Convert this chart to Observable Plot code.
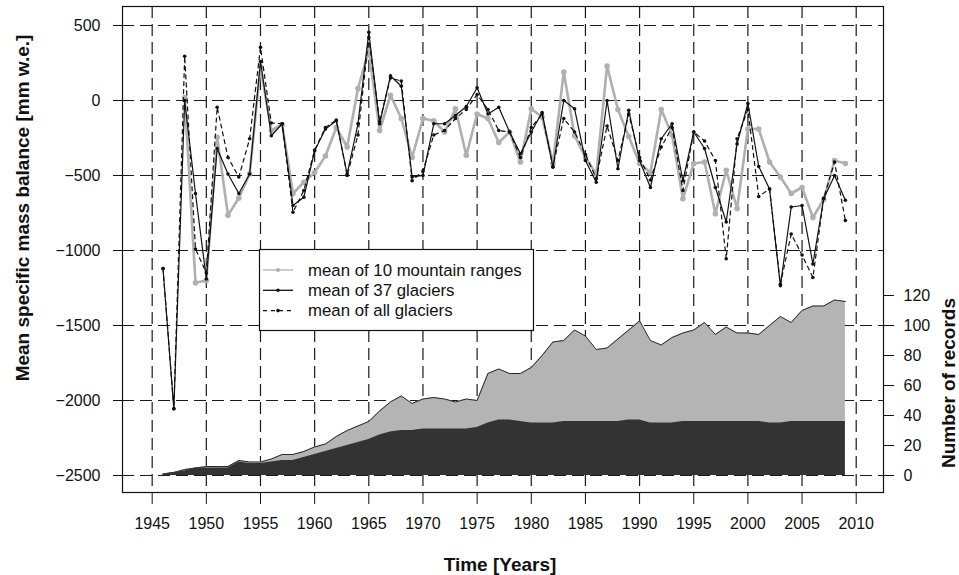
<!DOCTYPE html>
<html>
<head>
<meta charset="utf-8">
<script src="https://cdn.jsdelivr.net/npm/d3@7"></script>
<script src="https://cdn.jsdelivr.net/npm/@observablehq/plot@0.6"></script>
<style>
  body { margin: 0; background: #fff; }
  #chart { width: 959px; height: 575px; }
</style>
</head>
<body>
<div id="chart"></div>
<script>
// ---------- data ----------
const years = [1946,1947,1948,1949,1950,1951,1952,1953,1954,1955,
  1956,1957,1958,1959,1960,1961,1962,1963,1964,1965,
  1966,1967,1968,1969,1970,1971,1972,1973,1974,1975,
  1976,1977,1978,1979,1980,1981,1982,1983,1984,1985,
  1986,1987,1988,1989,1990,1991,1992,1993,1994,1995,
  1996,1997,1998,1999,2000,2001,2002,2003,2004,2005,
  2006,2007,2008,2009];

// mean of 10 mountain ranges (mm w.e.)
const mean10 = [null,null,20,-1215,-1200,-245,-765,-650,-490,225,
  -200,-160,-620,-545,-480,-370,-180,-310,80,335,
  -200,35,-120,-380,-120,-135,-210,-55,-365,-90,
  -120,-280,-210,-410,-55,-110,-420,190,-235,-380,
  -490,230,-60,-240,-420,-480,-60,-230,-655,-420,
  -410,-755,-465,-720,-190,-190,-410,-510,-620,-580,
  -780,-660,-400,-420];

// mean of 37 glaciers (mm w.e.)
const mean37 = [-1120,-2055,0,-620,-1190,-320,-490,-620,-490,260,
  -235,-155,-700,-645,-335,-190,-135,-490,-155,455,
  -155,165,95,-510,-500,-155,-155,-100,-40,85,
  -90,-45,-210,-355,-210,-80,-445,0,-55,-400,
  -545,0,-455,-65,-400,-580,-255,-155,-535,-210,
  -320,-580,-810,-290,-20,-440,-590,-1235,-710,-700,
  -1090,-655,-500,-665];

// mean of all glaciers (mm w.e.)
const meanAll = [-1120,-2055,295,-990,-1150,-45,-380,-510,-255,355,
  -150,-155,-745,-600,-330,-180,-130,-500,-230,420,
  -140,150,130,-535,-470,-230,-200,-120,-60,40,
  -60,-200,-210,-380,-180,-90,-440,-120,-210,-360,
  -520,-170,-400,-90,-380,-530,-310,-180,-600,-210,
  -270,-400,-1055,-255,-60,-640,-590,-1225,-890,-1030,
  -1180,-650,-410,-800];

// number of records: all glaciers
const recordsAll = [1,2,4,5,6,6,6,10,9,9,
  11,14,14,16,19,21,26,30,33,36,
  43,49,53,48,51,52,51,49,51,50,
  68,71,68,68,72,80,89,90,97,93,
  84,85,91,97,103,90,87,92,95,97,
  102,94,99,95,95,94,100,106,102,110,
  113,113,117,116];

// number of records: the 37 glaciers
const records37 = [1,2,3,5,5,5,5,9,8,8,
  9,10,10,12,14,16,18,20,22,24,
  27,29,30,30,31,31,31,31,31,32,
  35,37,37,36,35,35,35,36,36,36,
  36,36,36,37,37,35,35,35,36,36,
  36,36,36,36,36,36,35,35,36,36,
  36,36,36,36];

const xTicks = [1945,1950,1955,1960,1965,1970,1975,1980,1985,1990,1995,2000,2005,2010];
const yTicks = [-2500,-2000,-1500,-1000,-500,0,500];
const recordTicks = [0,20,40,60,80,100,120];

const seriesLabels = ["mean of 10 mountain ranges", "mean of 37 glaciers", "mean of all glaciers"];
const xTitle = "Time [Years]";
const yTitle = "Mean specific mass balance [mm w.e.]";
const y2Title = "Number of records";

// ---------- build ----------
const rows = years.map((year, i) => ({
  year, m10: mean10[i], m37: mean37[i], all: meanAll[i],
  nAll: recordsAll[i], n37: records37[i]
}));
// secondary axis: records are drawn on the balance axis (0 records at -2500, 10 mm per record)
const rec = n => -2500 + n * 10;

const FONT = "'Liberation Sans', Arial, Helvetica, sans-serif";
const GRAY = "#b0b0b0";
const INK = "#111";

const plot = Plot.plot({
  width: 959,
  height: 575,
  marginLeft: 122,
  marginRight: 76,
  marginTop: 6,
  marginBottom: 83,
  x: {domain: [1942.26, 2012.52]},
  y: {domain: [-2613.3, 626.7]},
  style: {fontFamily: FONT, fontSize: "16px", color: INK, background: "#fff", overflow: "visible"},
  marks: [
    Plot.ruleX(xTicks, {stroke: "#1a1a1a", strokeWidth: 1.2, strokeDasharray: "12,6"}),
    Plot.ruleY(yTicks, {stroke: "#1a1a1a", strokeWidth: 1.2, strokeDasharray: "12,6"}),
    Plot.areaY(rows, {x: "year", y1: () => rec(0), y2: d => rec(d.nAll), fill: "#b4b4b4"}),
    Plot.lineY(rows, {x: "year", y: d => rec(d.nAll), stroke: "#2a2a2a", strokeWidth: 1}),
    Plot.areaY(rows, {x: "year", y1: () => rec(0), y2: d => rec(d.n37), fill: "#333333"}),
    Plot.line(rows, {x: "year", y: "m10", stroke: GRAY, strokeWidth: 2.6}),
    Plot.dot(rows, {x: "year", y: "m10", r: 2.8, fill: GRAY, stroke: "none"}),
    Plot.line(rows, {x: "year", y: "m37", stroke: INK, strokeWidth: 1.2}),
    Plot.dot(rows, {x: "year", y: "m37", r: 1.8, fill: INK, stroke: "none"}),
    Plot.line(rows, {x: "year", y: "all", stroke: INK, strokeWidth: 1.2, strokeDasharray: "4,4"}),
    Plot.dot(rows, {x: "year", y: "all", r: 1.8, fill: INK, stroke: "none"}),
    Plot.frame({stroke: INK, strokeWidth: 1.2}),
    Plot.axisX(xTicks, {anchor: "bottom", tickSize: 12, tickPadding: 13, tickFormat: d => String(d), label: null, stroke: INK}),
    Plot.axisY(yTicks, {anchor: "left", tickSize: 9, tickPadding: 13,
      tickFormat: d => d < 0 ? "\u2212" + Math.abs(d) : String(d), label: null, stroke: INK}),
    Plot.axisY(recordTicks.map(rec), {anchor: "right", tickSize: 10, tickPadding: 10,
      tickFormat: d => String(Math.round((d + 2500) / 10)), label: null, stroke: INK})
  ]
});

document.getElementById("chart").appendChild(plot);

// ---------- axis titles & legend ----------
const svg = d3.select(plot);
const ann = svg.append("g").attr("font-family", FONT).attr("fill", INK);

ann.append("text")
  .attr("transform", "translate(29,208) rotate(-90)")
  .attr("text-anchor", "middle")
  .attr("font-size", 19).attr("font-weight", "bold")
  .text(yTitle);

ann.append("text")
  .attr("x", 500).attr("y", 571)
  .attr("text-anchor", "middle")
  .attr("font-size", 19).attr("font-weight", "bold")
  .text(xTitle);

ann.append("text")
  .attr("transform", "translate(955,383) rotate(-90)")
  .attr("text-anchor", "middle")
  .attr("font-size", 19).attr("font-weight", "bold")
  .text(y2Title);

const leg = svg.append("g").attr("font-family", FONT).attr("font-size", 16.8).attr("text-anchor", "start");
leg.append("rect")
  .attr("x", 259.5).attr("y", 249.5).attr("width", 274).attr("height", 81)
  .attr("fill", "#fff").attr("stroke", INK).attr("stroke-width", 1.2);

const styles = [
  {stroke: GRAY, dash: null, r: 2, fill: GRAY},
  {stroke: INK, dash: null, r: 1.8, fill: INK},
  {stroke: INK, dash: "4,4", r: 1.8, fill: INK}
];
seriesLabels.forEach((label, i) => {
  const yy = 270 + i * 20.3;
  const s = styles[i];
  const ln = leg.append("line")
    .attr("x1", 263).attr("x2", 293).attr("y1", yy).attr("y2", yy)
    .attr("stroke", s.stroke).attr("stroke-width", 1.3);
  if (s.dash) ln.attr("stroke-dasharray", s.dash);
  leg.append("circle").attr("cx", 278).attr("cy", yy).attr("r", s.r).attr("fill", s.fill);
  leg.append("text").attr("x", 308).attr("y", yy).attr("dy", "0.35em")
    .attr("text-anchor", "start").attr("fill", INK).text(label);
});
</script>
</body>
</html>
